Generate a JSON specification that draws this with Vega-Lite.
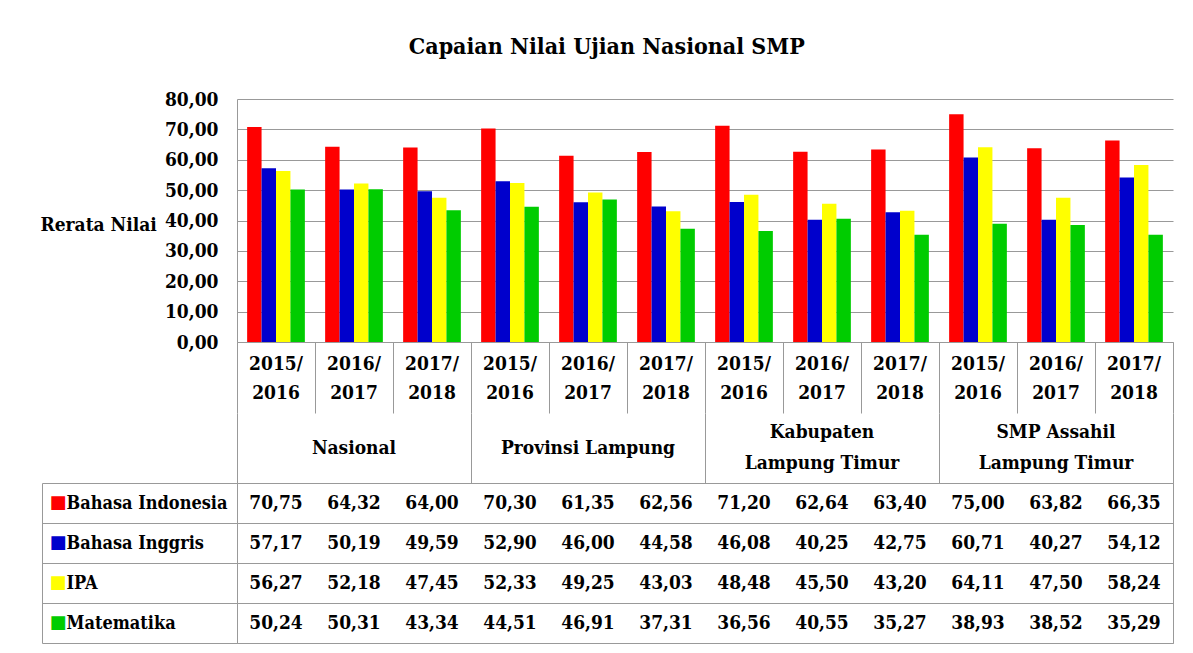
{
  "$schema": "https://vega.github.io/schema/vega-lite/v6.json",
  "padding": {"left": 40, "top": 36, "right": 10, "bottom": 5},
  "title": {"text": "Capaian Nilai Ujian Nasional SMP", "font": "DejaVu Serif Condensed", "fontSize": 23, "fontWeight": "bold", "color": "black", "anchor": "middle", "offset": 31},
  "bounds": "flush",
  "spacing": 0,
  "config": {
    "locale": {"number": {"decimal": ",", "thousands": ".", "grouping": [3], "currency": ["", ""]}},
    "view": {"stroke": null},
    "font": "DejaVu Serif Condensed",
    "axis": {"labelFont": "DejaVu Serif Condensed", "labelFontSize": 19, "labelFontWeight": "bold", "labelColor": "black", "titleFont": "DejaVu Serif Condensed", "titleFontSize": 19, "titleFontWeight": "bold", "titleColor": "black", "domainColor": "#999999", "gridColor": "#999999", "tickColor": "#999999"},
    "text": {"font": "DejaVu Serif Condensed", "fontSize": 19, "fontWeight": "bold", "color": "black", "baseline": "middle"}
  },
  "datasets": {
    "scores": [
      {"col": "N1", "group": "Nasional", "year": "2015/\n2016", "subject": "Bahasa Indonesia", "value": 70.75},
      {"col": "N1", "group": "Nasional", "year": "2015/\n2016", "subject": "Bahasa Inggris", "value": 57.17},
      {"col": "N1", "group": "Nasional", "year": "2015/\n2016", "subject": "IPA", "value": 56.27},
      {"col": "N1", "group": "Nasional", "year": "2015/\n2016", "subject": "Matematika", "value": 50.24},
      {"col": "N2", "group": "Nasional", "year": "2016/\n2017", "subject": "Bahasa Indonesia", "value": 64.32},
      {"col": "N2", "group": "Nasional", "year": "2016/\n2017", "subject": "Bahasa Inggris", "value": 50.19},
      {"col": "N2", "group": "Nasional", "year": "2016/\n2017", "subject": "IPA", "value": 52.18},
      {"col": "N2", "group": "Nasional", "year": "2016/\n2017", "subject": "Matematika", "value": 50.31},
      {"col": "N3", "group": "Nasional", "year": "2017/\n2018", "subject": "Bahasa Indonesia", "value": 64.00},
      {"col": "N3", "group": "Nasional", "year": "2017/\n2018", "subject": "Bahasa Inggris", "value": 49.59},
      {"col": "N3", "group": "Nasional", "year": "2017/\n2018", "subject": "IPA", "value": 47.45},
      {"col": "N3", "group": "Nasional", "year": "2017/\n2018", "subject": "Matematika", "value": 43.34},
      {"col": "P1", "group": "Provinsi Lampung", "year": "2015/\n2016", "subject": "Bahasa Indonesia", "value": 70.30},
      {"col": "P1", "group": "Provinsi Lampung", "year": "2015/\n2016", "subject": "Bahasa Inggris", "value": 52.90},
      {"col": "P1", "group": "Provinsi Lampung", "year": "2015/\n2016", "subject": "IPA", "value": 52.33},
      {"col": "P1", "group": "Provinsi Lampung", "year": "2015/\n2016", "subject": "Matematika", "value": 44.51},
      {"col": "P2", "group": "Provinsi Lampung", "year": "2016/\n2017", "subject": "Bahasa Indonesia", "value": 61.35},
      {"col": "P2", "group": "Provinsi Lampung", "year": "2016/\n2017", "subject": "Bahasa Inggris", "value": 46.00},
      {"col": "P2", "group": "Provinsi Lampung", "year": "2016/\n2017", "subject": "IPA", "value": 49.25},
      {"col": "P2", "group": "Provinsi Lampung", "year": "2016/\n2017", "subject": "Matematika", "value": 46.91},
      {"col": "P3", "group": "Provinsi Lampung", "year": "2017/\n2018", "subject": "Bahasa Indonesia", "value": 62.56},
      {"col": "P3", "group": "Provinsi Lampung", "year": "2017/\n2018", "subject": "Bahasa Inggris", "value": 44.58},
      {"col": "P3", "group": "Provinsi Lampung", "year": "2017/\n2018", "subject": "IPA", "value": 43.03},
      {"col": "P3", "group": "Provinsi Lampung", "year": "2017/\n2018", "subject": "Matematika", "value": 37.31},
      {"col": "K1", "group": "Kabupaten\nLampung Timur", "year": "2015/\n2016", "subject": "Bahasa Indonesia", "value": 71.20},
      {"col": "K1", "group": "Kabupaten\nLampung Timur", "year": "2015/\n2016", "subject": "Bahasa Inggris", "value": 46.08},
      {"col": "K1", "group": "Kabupaten\nLampung Timur", "year": "2015/\n2016", "subject": "IPA", "value": 48.48},
      {"col": "K1", "group": "Kabupaten\nLampung Timur", "year": "2015/\n2016", "subject": "Matematika", "value": 36.56},
      {"col": "K2", "group": "Kabupaten\nLampung Timur", "year": "2016/\n2017", "subject": "Bahasa Indonesia", "value": 62.64},
      {"col": "K2", "group": "Kabupaten\nLampung Timur", "year": "2016/\n2017", "subject": "Bahasa Inggris", "value": 40.25},
      {"col": "K2", "group": "Kabupaten\nLampung Timur", "year": "2016/\n2017", "subject": "IPA", "value": 45.50},
      {"col": "K2", "group": "Kabupaten\nLampung Timur", "year": "2016/\n2017", "subject": "Matematika", "value": 40.55},
      {"col": "K3", "group": "Kabupaten\nLampung Timur", "year": "2017/\n2018", "subject": "Bahasa Indonesia", "value": 63.40},
      {"col": "K3", "group": "Kabupaten\nLampung Timur", "year": "2017/\n2018", "subject": "Bahasa Inggris", "value": 42.75},
      {"col": "K3", "group": "Kabupaten\nLampung Timur", "year": "2017/\n2018", "subject": "IPA", "value": 43.20},
      {"col": "K3", "group": "Kabupaten\nLampung Timur", "year": "2017/\n2018", "subject": "Matematika", "value": 35.27},
      {"col": "S1", "group": "SMP Assahil\nLampung Timur", "year": "2015/\n2016", "subject": "Bahasa Indonesia", "value": 75.00},
      {"col": "S1", "group": "SMP Assahil\nLampung Timur", "year": "2015/\n2016", "subject": "Bahasa Inggris", "value": 60.71},
      {"col": "S1", "group": "SMP Assahil\nLampung Timur", "year": "2015/\n2016", "subject": "IPA", "value": 64.11},
      {"col": "S1", "group": "SMP Assahil\nLampung Timur", "year": "2015/\n2016", "subject": "Matematika", "value": 38.93},
      {"col": "S2", "group": "SMP Assahil\nLampung Timur", "year": "2016/\n2017", "subject": "Bahasa Indonesia", "value": 63.82},
      {"col": "S2", "group": "SMP Assahil\nLampung Timur", "year": "2016/\n2017", "subject": "Bahasa Inggris", "value": 40.27},
      {"col": "S2", "group": "SMP Assahil\nLampung Timur", "year": "2016/\n2017", "subject": "IPA", "value": 47.50},
      {"col": "S2", "group": "SMP Assahil\nLampung Timur", "year": "2016/\n2017", "subject": "Matematika", "value": 38.52},
      {"col": "S3", "group": "SMP Assahil\nLampung Timur", "year": "2017/\n2018", "subject": "Bahasa Indonesia", "value": 66.35},
      {"col": "S3", "group": "SMP Assahil\nLampung Timur", "year": "2017/\n2018", "subject": "Bahasa Inggris", "value": 54.12},
      {"col": "S3", "group": "SMP Assahil\nLampung Timur", "year": "2017/\n2018", "subject": "IPA", "value": 58.24},
      {"col": "S3", "group": "SMP Assahil\nLampung Timur", "year": "2017/\n2018", "subject": "Matematika", "value": 35.29}
    ]
  },
  "vconcat": [
    {
      "width": 936,
      "height": 243,
      "data": {"name": "scores"},
      "mark": {"type": "bar"},
      "encoding": {
        "x": {"field": "col", "type": "nominal", "sort": null, "scale": {"paddingInner": 0.26, "paddingOuter": 0.13}, "axis": {"labels": false, "ticks": false, "title": null, "domain": true, "grid": false}},
        "xOffset": {"field": "subject", "type": "nominal", "sort": ["Bahasa Indonesia", "Bahasa Inggris", "IPA", "Matematika"], "scale": {"paddingInner": 0, "paddingOuter": 0}},
        "y": {"field": "value", "type": "quantitative", "scale": {"domain": [0, 80], "nice": false}, "axis": {"values": [0, 10, 20, 30, 40, 50, 60, 70, 80], "format": ".2f", "ticks": false, "labelPadding": 19, "grid": true, "domain": true, "title": "Rerata Nilai", "titleAngle": 0, "titleAlign": "left", "titleBaseline": "middle", "titleX": -197, "titleY": 125}},
        "color": {"field": "subject", "type": "nominal", "scale": {"domain": ["Bahasa Indonesia", "Bahasa Inggris", "IPA", "Matematika"], "range": ["#FF0000", "#0000CC", "#FFFF00", "#00CC00"]}, "legend": null}
      }
    },
    {
      "width": 936,
      "height": 71,
      "data": {"name": "scores"},
      "transform": [{"filter": "datum.subject === 'Bahasa Indonesia'"}],
      "mark": {"type": "text", "lineBreak": "\n", "lineHeight": 29, "dy": -14},
      "encoding": {
        "x": {"field": "col", "type": "nominal", "sort": null, "scale": {"padding": 0}, "axis": {"labels": false, "ticks": false, "domain": false, "title": null, "grid": true, "tickBand": "extent"}},
        "text": {"field": "year"}
      }
    },
    {
      "width": 936,
      "height": 70,
      "data": {"name": "scores"},
      "transform": [{"filter": "datum.subject === 'Bahasa Indonesia' && substring(datum.col, 1) === '1'"}],
      "encoding": {
        "x": {"field": "group", "type": "nominal", "sort": null, "scale": {"padding": 0}, "axis": {"labels": false, "ticks": false, "domain": false, "title": null, "grid": true, "tickBand": "extent"}},
        "text": {"field": "group"}
      },
      "layer": [
        {
          "transform": [{"filter": "indexof(datum.group, '\\n') < 0"}],
          "mark": {"type": "text"}
        },
        {
          "transform": [{"filter": "indexof(datum.group, '\\n') >= 0"}],
          "mark": {"type": "text", "lineBreak": "\n", "lineHeight": 31, "dy": -16}
        }
      ]
    },
    {
      "width": 936,
      "height": 160,
      "data": {"name": "scores"},
      "view": {"stroke": "#999999"},
      "layer": [
        {
          "mark": {"type": "text"},
          "encoding": {
            "x": {"field": "col", "type": "nominal", "sort": null, "scale": {"padding": 0}, "axis": {"orient": "top", "labels": false, "ticks": false, "domain": false, "title": null, "grid": true, "tickBand": "extent"}},
            "y": {"field": "subject", "type": "nominal", "sort": ["Bahasa Indonesia", "Bahasa Inggris", "IPA", "Matematika"], "scale": {"padding": 0}, "axis": {"orient": "left", "title": null, "grid": true, "tickBand": "extent", "tickSize": 195, "labelAlign": "left", "labelPadding": -24, "labelLimit": 0, "labelFontSize": 18, "labelBaseline": "middle", "domain": true}},
            "text": {"field": "value", "type": "quantitative", "format": ".2f"}
          }
        },
        {
          "mark": {"type": "point", "opacity": 0},
          "encoding": {
            "x": {"field": "col", "type": "nominal", "sort": null, "axis": null},
            "y": {"field": "subject", "type": "nominal", "sort": ["Bahasa Indonesia", "Bahasa Inggris", "IPA", "Matematika"], "axis": {"orient": "left", "offset": 195, "title": null, "grid": false, "ticks": false, "labelAlign": "left", "labelPadding": -7, "labelExpr": "'■'", "labelFont": "DejaVu Sans", "labelFontSize": 18, "labelBaseline": "middle", "labelColor": {"condition": [{"test": "datum.value === 'Bahasa Indonesia'", "value": "#FF0000"}, {"test": "datum.value === 'Bahasa Inggris'", "value": "#0000CC"}, {"test": "datum.value === 'IPA'", "value": "#FFFF00"}], "value": "#00CC00"}, "domain": true}}
          }
        }
      ],
      "resolve": {"axis": {"y": "independent"}}
    }
  ]
}
